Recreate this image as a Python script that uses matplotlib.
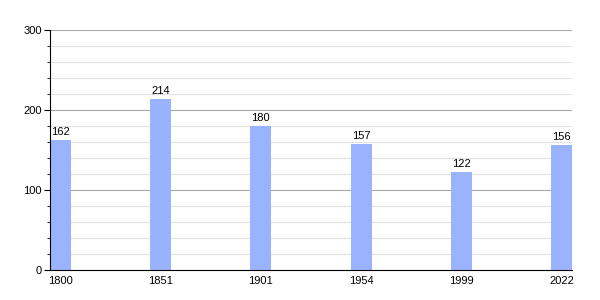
import matplotlib
matplotlib.use("Agg")
import matplotlib.pyplot as plt
from matplotlib.ticker import MultipleLocator

years = ["1800", "1851", "1901", "1954", "1999", "2022"]
population = [162, 214, 180, 157, 122, 156]

BAR = "#99b3ff"
MAJOR = "#a8a8a8"
MINOR = "#e2e2e2"

plt.rcParams["font.family"] = ["Liberation Sans", "DejaVu Sans"]

fig = plt.figure(figsize=(6, 3), dpi=100)
ax = fig.add_axes([50 / 600, 30 / 300, 522 / 600, 240 / 300])

x = list(range(len(years)))
width = 0.21
ax.bar(x, population, width=width, align="edge", color=BAR, zorder=3)
for xi, v in zip(x, population):
    ax.text(xi + width / 2, v + 4, str(v), ha="center", va="bottom", fontsize=8, zorder=4)

ax.set_xlim(0, len(years) - 1 + width)
ax.set_ylim(0, 300)
ax.set_xticks([xi + width / 2 for xi in x])
ax.set_xticklabels(years)
ax.yaxis.set_major_locator(MultipleLocator(100))
ax.yaxis.set_minor_locator(MultipleLocator(20))

ax.grid(True, axis="y", which="minor", color=MINOR, linewidth=0.8, zorder=0)
ax.grid(True, axis="y", which="major", color=MAJOR, linewidth=0.8, zorder=1)

for side in ("top", "right"):
    ax.spines[side].set_visible(False)
ax.spines["left"].set_color("black")
ax.spines["bottom"].set_color("black")
ax.spines["left"].set_zorder(5)
ax.spines["bottom"].set_zorder(5)

ax.tick_params(axis="x", length=0, labelsize=8, pad=4)
ax.tick_params(axis="y", which="major", length=4, labelsize=8, pad=2)
ax.tick_params(axis="y", which="minor", length=2)

fig.savefig("out.png", dpi=100)
